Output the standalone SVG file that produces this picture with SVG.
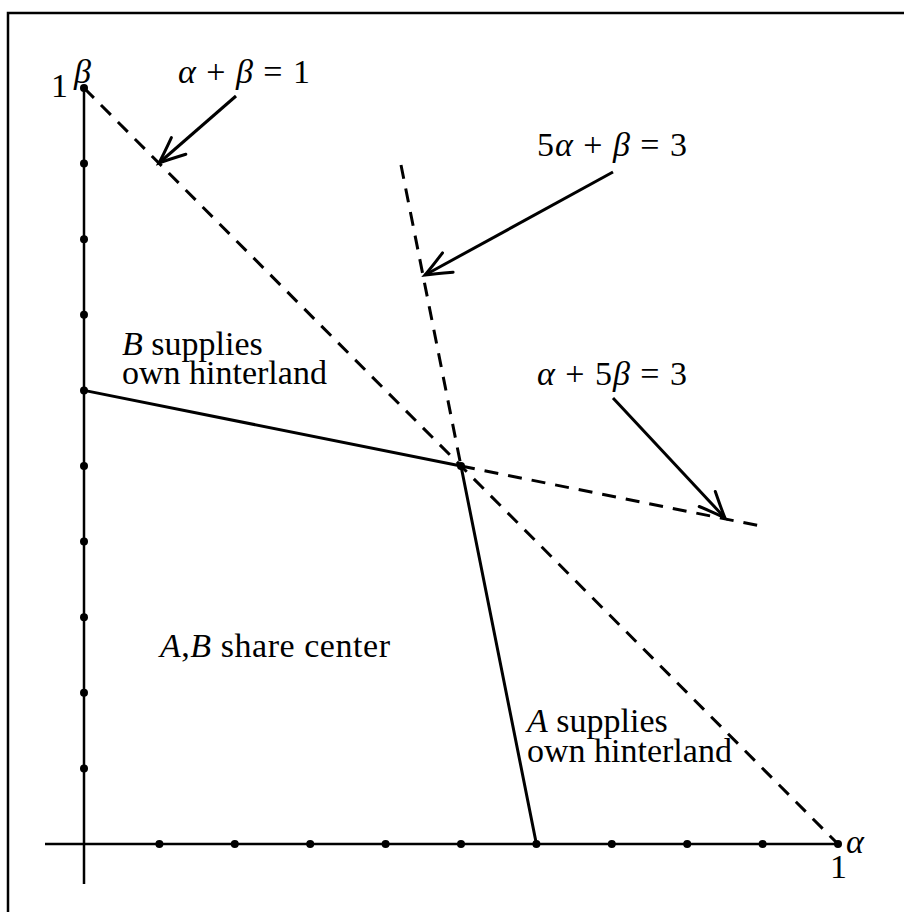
<svg xmlns="http://www.w3.org/2000/svg" width="904" height="912" viewBox="0 0 904 912">
<style>
text{font-family:"Liberation Serif","Times New Roman",serif;font-size:34px;fill:#000}
.it{font-style:italic}
.ax{stroke:#000;stroke-width:2.5;fill:none}
.solid{stroke:#000;stroke-width:3;fill:none;stroke-linecap:round}
.dash{stroke:#000;stroke-width:3;fill:none;stroke-dasharray:14 10}
.arr{stroke:#000;stroke-width:3;fill:none;marker-end:url(#ah)}
.dot{fill:#000}
</style>
<defs>
<marker id="ah" markerUnits="userSpaceOnUse" viewBox="-30 -15 34 30" refX="0" refY="0" markerWidth="34" markerHeight="30" orient="auto">
<path d="M-26,-11 Q-8,-3 0,0 Q-8,3 -26,11" stroke="#000" stroke-width="3" fill="none" stroke-linecap="round"/>
</marker>
</defs>
<rect x="8" y="13" width="900" height="905" fill="none" stroke="#000" stroke-width="2.5"/>
<g id="axes">
<line class="ax" x1="84" y1="88" x2="84" y2="884"/>
<line class="ax" x1="45" y1="844" x2="838" y2="844"/>
</g>
<g id="ticks">
<circle class="dot" cx="84" cy="88" r="4"/>
<circle class="dot" cx="84" cy="163.6" r="4"/>
<circle class="dot" cx="84" cy="239.2" r="4"/>
<circle class="dot" cx="84" cy="314.8" r="4"/>
<circle class="dot" cx="84" cy="390.4" r="4"/>
<circle class="dot" cx="84" cy="466" r="4"/>
<circle class="dot" cx="84" cy="541.6" r="4"/>
<circle class="dot" cx="84" cy="617.2" r="4"/>
<circle class="dot" cx="84" cy="692.8" r="4"/>
<circle class="dot" cx="84" cy="768.4" r="4"/>
<circle class="dot" cx="159.4" cy="844" r="4"/>
<circle class="dot" cx="234.8" cy="844" r="4"/>
<circle class="dot" cx="310.2" cy="844" r="4"/>
<circle class="dot" cx="385.6" cy="844" r="4"/>
<circle class="dot" cx="461" cy="844" r="4"/>
<circle class="dot" cx="536.4" cy="844" r="4"/>
<circle class="dot" cx="611.8" cy="844" r="4"/>
<circle class="dot" cx="687.2" cy="844" r="4"/>
<circle class="dot" cx="762.6" cy="844" r="4"/>
<circle class="dot" cx="838" cy="844" r="4"/>
<circle class="dot" cx="461" cy="466" r="4"/>
</g>
<g id="connectors">
<line class="dash" x1="84" y1="88" x2="838" y2="844"/>
<line class="dash" x1="401" y1="165" x2="461" y2="466"/>
<line class="solid" x1="461" y1="466" x2="536.4" y2="844"/>
<line class="solid" x1="84" y1="390.4" x2="461" y2="466"/>
<line class="dash" x1="461" y1="466" x2="763" y2="526.5"/>
<line class="arr" x1="236" y1="96" x2="159" y2="163"/>
<line class="arr" x1="613" y1="172" x2="425" y2="275"/>
<line class="arr" x1="613" y1="398" x2="725" y2="518"/>
</g>
<g id="labels">
<text x="51" y="97">1</text>
<text x="74" y="83" class="it">β</text>
<text x="830" y="878">1</text>
<text x="846" y="853" class="it">α</text>
<text x="178" y="83" textLength="132"><tspan class="it">α</tspan> + <tspan class="it">β</tspan> = 1</text>
<text x="537" y="156" textLength="150">5<tspan class="it">α</tspan> + <tspan class="it">β</tspan> = 3</text>
<text x="537" y="385" textLength="150"><tspan class="it">α</tspan> + 5<tspan class="it">β</tspan> = 3</text>
<text x="122" y="355"><tspan class="it">B</tspan> supplies<tspan x="122" dy="29">own hinterland</tspan></text>
<text x="160" y="657" textLength="230"><tspan class="it">A</tspan>,<tspan class="it">B</tspan> share center</text>
<text x="527" y="732"><tspan class="it">A</tspan> supplies<tspan x="527" dy="30">own hinterland</tspan></text>
</g>
</svg>
